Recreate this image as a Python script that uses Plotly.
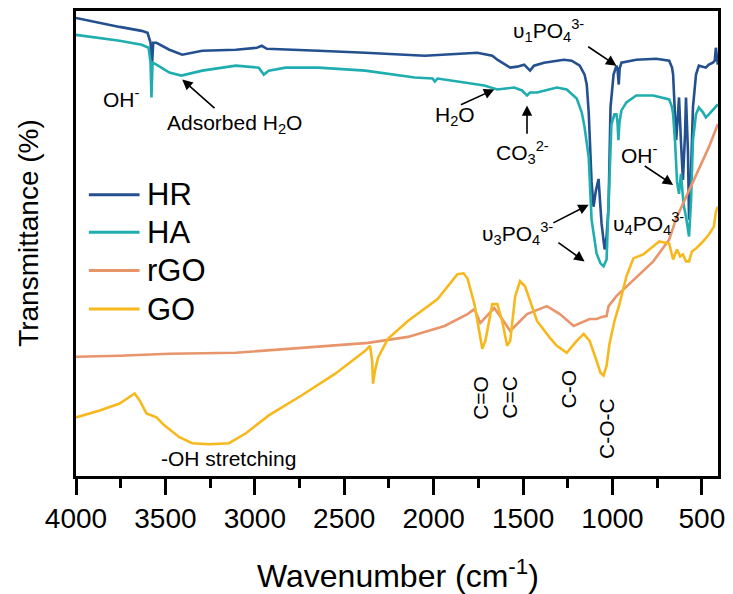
import plotly.graph_objects as go

# ---------------- data ----------------
hr_wn = [4000, 3867, 3756, 3633, 3600, 3583, 3575, 3568, 3550, 3478, 3406, 3294, 3106, 2989, 2961,
         2933, 2828, 2644, 2383, 2050, 1756, 1672, 1644, 1572, 1533, 1494, 1461, 1439, 1383, 1311,
         1272, 1228, 1183, 1156, 1144, 1133, 1128, 1117, 1106, 1094, 1078, 1067, 1061, 1044, 1033,
         1022, 1017, 1011, 994, 978, 972, 965, 960, 950, 867, 756, 683, 667, 661, 656, 644, 633,
         628, 617, 606, 594, 589, 578, 572, 561, 550, 533, 517, 478, 461, 439, 428, 422, 417, 411]
hr_t = [461, 456, 452, 448, 446, 436, 414, 436, 436, 429, 424, 428, 429, 431, 433,
        430, 429, 428, 426, 423, 426, 423, 419, 411, 412, 414, 408, 413, 416, 418,
        419, 418, 413, 404, 394, 366, 338, 296, 271, 286, 299, 266, 254, 228, 241,
        271, 326, 371, 404, 413, 410, 394, 410, 416, 419, 420, 418, 411, 404, 381, 338, 366,
        381, 336, 298, 346, 381, 326, 258, 306, 371, 404, 413, 411, 414, 416, 418, 431, 421, 414]

ha_wn = [4000, 3867, 3756, 3633, 3594, 3583, 3578, 3572, 3550, 3478, 3411, 3294, 3106, 2978, 2950,
         2922, 2883, 2828, 2644, 2383, 2106, 2006, 1994, 1978, 1828, 1717, 1644, 1550, 1506, 1478,
         1461, 1422, 1311, 1256, 1200, 1172, 1156, 1133, 1117, 1089, 1067, 1050, 1033, 1022, 1011,
         1006, 989, 978, 972, 967, 961, 950, 922, 867, 772, 683, 667, 661, 650, 644, 639, 628, 622,
         617, 606, 600, 589, 578, 572, 561, 550, 533, 517, 494, 478, 461, 439, 422, 411]
ha_t = [444, 441, 438, 434, 431, 416, 381, 416, 414, 406, 403, 408, 413, 411, 404,
        408, 409, 411, 411, 408, 401, 400, 397, 400, 396, 393, 389, 391, 388, 383,
        386, 386, 391, 389, 380, 366, 351, 321, 258, 224, 214, 211, 218, 271, 326,
        354, 364, 364, 356, 338, 356, 368, 376, 383, 383, 379, 371, 364, 336, 304, 296, 284, 298,
        304, 281, 271, 261, 248, 241, 276, 338, 364, 371, 366, 361, 364, 368, 372, 374]

rgo_wn = [4000, 3756, 3478, 3106, 2739, 2367, 2144, 1939, 1811, 1772, 1739, 1700, 1661, 1617, 1572,
          1533, 1478, 1367, 1294, 1217, 1128, 1089, 1061, 1033, 1022, 978, 906, 772, 683, 644,
          550, 494, 461, 411]
rgo_t = [120, 121, 123, 124, 129, 134, 140, 151, 163, 168, 154, 161, 169, 158, 146,
         153, 163, 171, 163, 151, 158, 158, 160, 161, 171, 181, 193, 216, 238, 259,
         296, 319, 331, 354]

go_wn = [4000, 3867, 3756, 3672, 3644, 3606, 3550, 3506, 3422, 3350, 3256, 3144, 3050, 2922, 2739,
         2550, 2383, 2356, 2344, 2339, 2328, 2311, 2256, 2144, 1978, 1867, 1833, 1811, 1772, 1744,
         1728, 1711, 1672, 1644, 1617, 1589, 1572, 1544, 1517, 1489, 1450, 1422, 1350, 1311, 1256,
         1200, 1161, 1128, 1089, 1067, 1050, 1033, 1017, 989, 961, 922, 883, 828, 739, 683, 661,
         639, 622, 606, 589, 572, 556, 533, 494, 461, 433, 422, 411]
go_t = [59, 66, 73, 83, 76, 63, 59, 51, 39, 33, 32, 33, 43, 61, 81,
        103, 126, 131, 116, 93, 106, 119, 138, 156, 178, 203, 204, 199, 173, 146,
        128, 136, 173, 173, 156, 131, 136, 181, 196, 191, 171, 156, 139, 131, 124,
        136, 143, 136, 116, 104, 101, 111, 133, 156, 173, 201, 219, 223, 236, 234, 218,
        228, 221, 223, 216, 216, 226, 229, 236, 243, 251, 266, 271]

series_names = ["HR", "HA", "rGO", "GO"]
series_colors = ["#24508f", "#1fadb0", "#e8956c", "#f6b81c"]

x_ticks = [4000, 3500, 3000, 2500, 2000, 1500, 1000, 500]

# ---------------- figure ----------------
FONT = "Arial, Liberation Sans, sans-serif"
fig = go.Figure()
for name, wn, t, col in zip(series_names, [hr_wn, ha_wn, rgo_wn, go_wn],
                            [hr_t, ha_t, rgo_t, go_t], series_colors):
    fig.add_trace(go.Scatter(x=wn, y=t, mode="lines", name=name,
                             line=dict(color=col, width=2.6), showlegend=False))

# custom legend (long line samples like the reference)
leg_y = [0.605, 0.524, 0.442, 0.359]
for name, col, yy in zip(series_names, series_colors, leg_y):
    fig.add_shape(type="line", xref="paper", yref="paper", x0=0.020, x1=0.099, y0=yy, y1=yy,
                  line=dict(color=col, width=3))
    fig.add_annotation(xref="paper", yref="paper", x=0.108, y=yy, text=name, showarrow=False,
                       xanchor="left", yanchor="middle", font=dict(family=FONT, size=31, color="black"))

AF = dict(family=FONT, size=21, color="black")
labels = [
    ("OH<sup>-</sup>", 3744, 380, 0),
    ("Adsorbed H<sub>2</sub>O", 3111, 354, 0),
    ("H<sub>2</sub>O", 1883, 362, 0),
    ("CO<sub>3</sub><sup>2-</sup>", 1506, 326, 0),
    ("υ<sub>1</sub>PO<sub>4</sub><sup>3-</sup>", 1356, 448, 0),
    ("OH<sup>-</sup>", 850, 324, 0),
    ("υ<sub>3</sub>PO<sub>4</sub><sup>3-</sup>", 1533, 244, 0),
    ("υ<sub>4</sub>PO<sub>4</sub><sup>3-</sup>", 800, 254, 0),
    ("C=O", 1739, 79, -90),
    ("C=C", 1578, 79, -90),
    ("C-O", 1244, 88, -90),
    ("C-O-C", 1033, 48, -90),
    ("-OH stretching", 3150, 18, 0),
]
for txt, x, y, ang in labels:
    fig.add_annotation(x=x, y=y, text=txt, showarrow=False, textangle=ang,
                       xanchor="center", yanchor="middle", font=AF)

arrows = [  # (tail_x, tail_y, head_x, head_y)
    (3217, 369, 3406, 399),
    (1856, 373, 1661, 389),
    (1478, 343, 1478, 373),
    (1144, 433, 978, 413),
    (828, 313, 661, 293),
    (1339, 254, 1133, 273),
    (1311, 236, 1156, 216),
]
for tx, ty, hx, hy in arrows:
    fig.add_annotation(x=hx, y=hy, ax=tx, ay=ty, axref="x", ayref="y", text="",
                       showarrow=True, arrowhead=2, arrowsize=1.3, arrowwidth=1.6,
                       arrowcolor="black", standoff=0, startstandoff=0)

# axis titles placed like the reference
fig.add_annotation(xref="paper", yref="paper", x=0.5015, y=-0.2115, text="Wavenumber (cm<sup>-1</sup>)",
                   showarrow=False, xanchor="center", yanchor="middle",
                   font=dict(family=FONT, size=32, color="black"))
fig.add_annotation(xref="paper", yref="paper", x=-0.0743, y=0.5235, text="Transmittance (%)",
                   showarrow=False, xanchor="center", yanchor="middle", textangle=-90,
                   font=dict(family=FONT, size=28, color="black"))

fig.update_layout(
    width=733, height=594,
    margin=dict(l=76, r=11, t=8, b=118),
    paper_bgcolor="white", plot_bgcolor="white",
    font=dict(family=FONT, color="black"),
    xaxis=dict(range=[4000, 410], tickvals=x_ticks, ticktext=[str(v) for v in x_ticks],
               ticks="outside", ticklen=16, tickwidth=2.5, tickcolor="black",
               minor=dict(ticks="outside", ticklen=9, tickwidth=2.5, dtick=250, tick0=0,
                          tickcolor="black", showgrid=False),
               showline=True, linewidth=2.5, linecolor="black", mirror=True,
               showgrid=False, zeroline=False,
               tickfont=dict(family=FONT, size=28, color="black")),
    yaxis=dict(range=[0, 468], showticklabels=False, ticks="",
               showline=True, linewidth=2.5, linecolor="black", mirror=True,
               showgrid=False, zeroline=False),
)

fig.write_html("out.html")
